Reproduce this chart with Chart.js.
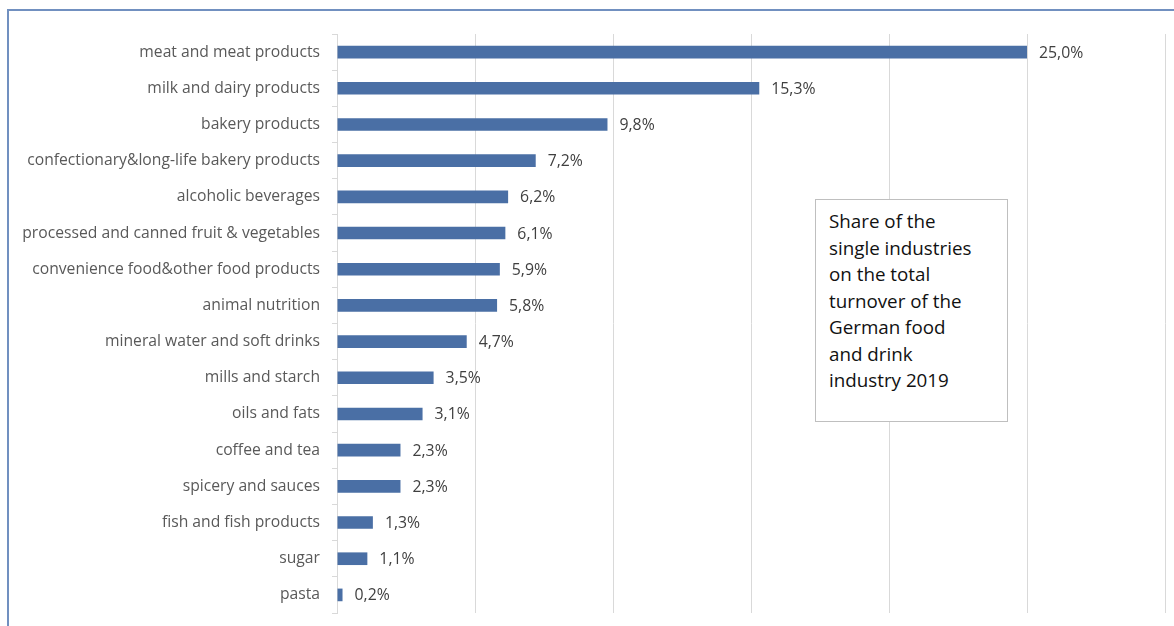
<!DOCTYPE html>
<html>
<head>
<meta charset="utf-8">
<script src="https://cdn.jsdelivr.net/npm/chart.js@4"></script>
<style>
  body { margin: 0; background: #fff; overflow: hidden; }
  #wrap { position: relative; width: 1174px; height: 626px; }
  #frame { position: absolute; left: 7px; top: 9px; width: 1200px; height: 700px;
           border-top: 2px solid #7190c0; border-left: 2px solid #7190c0; }
  #note { position: absolute; left: 815px; top: 199px; width: 193px; height: 223px;
          background: #fff; border: 1px solid #bfbfbf; box-sizing: border-box;
          padding: 8px 4px 0 13px; font-family: "Open Sans", sans-serif;
          font-size: 18.8px; line-height: 26.5px; color: #111; white-space: nowrap; }
  canvas { position: absolute; left: 0; top: 0; }
</style>
</head>
<body>
<div id="wrap">
  <div id="frame"></div>
  <canvas id="shareChart" width="1174" height="626"></canvas>
  <div id="note">Share of the<br>single industries<br>on the total<br>turnover of the<br>German food<br>and drink<br>industry 2019</div>
</div>
<script>
// data
const categories = [
    "meat and meat products",
    "milk and dairy products",
    "bakery products",
    "confectionary&long-life bakery products",
    "alcoholic beverages",
    "processed and canned fruit & vegetables",
    "convenience food&other food products",
    "animal nutrition",
    "mineral water and soft drinks",
    "mills and starch",
    "oils and fats",
    "coffee and tea",
    "spicery and sauces",
    "fish and fish products",
    "sugar",
    "pasta"
];
const shares = [25.0, 15.3, 9.8, 7.2, 6.2, 6.1, 5.9, 5.8, 4.7, 3.5, 3.1, 2.3, 2.3, 1.3, 1.1, 0.2];

const xMin = 0;
const xMax = 30;
const xStep = 5;

// value labels like "25,0%" at the bar ends
const valueLabels = {
    id: "valueLabels",
    afterDatasetsDraw(chart) {
        const ctx = chart.ctx;
        const meta = chart.getDatasetMeta(0);
        ctx.save();
        ctx.font = "15.8px 'Open Sans', sans-serif";
        ctx.fillStyle = "#404040";
        ctx.textAlign = "left";
        ctx.textBaseline = "middle";
        meta.data.forEach((bar, i) => {
            const txt = shares[i].toFixed(1).replace(".", ",") + "%";
            ctx.fillText(txt, bar.x + 12, bar.y + 1);
        });
        ctx.restore();
    }
};

const ctx = document.getElementById("shareChart").getContext("2d");

new Chart(ctx, {
    type: "bar",
    data: {
        labels: categories,
        datasets: [{
            data: shares,
            backgroundColor: "#4a6fa5",
            borderWidth: 0,
            categoryPercentage: 1.0,
            barPercentage: 0.35
        }]
    },
    options: {
        indexAxis: "y",
        responsive: false,
        animation: false,
        layout: { padding: { top: 34, right: 9, bottom: 13, left: 0 } },
        plugins: {
            legend: { display: false },
            tooltip: { enabled: false }
        },
        scales: {
            x: {
                min: xMin,
                max: xMax,
                afterFit(scale) { scale.height = 0; },
                ticks: { display: false, stepSize: xStep },
                grid: { color: "#d9d9d9", lineWidth: 1, drawTicks: false },
                border: { display: false }
            },
            y: {
                afterFit(scale) {
                    scale.width = 337;
                    scale.paddingTop = 0;
                    scale.paddingBottom = 0;
                },
                ticks: {
                    color: "#595959",
                    padding: 12,
                    font: { family: "'Open Sans', sans-serif", size: 15.7 }
                },
                grid: {
                    offset: true,
                    drawOnChartArea: false,
                    tickLength: 5,
                    color: "#d9d9d9"
                },
                border: { display: true, color: "#d9d9d9" }
            }
        }
    },
    plugins: [valueLabels]
});
</script>
</body>
</html>
